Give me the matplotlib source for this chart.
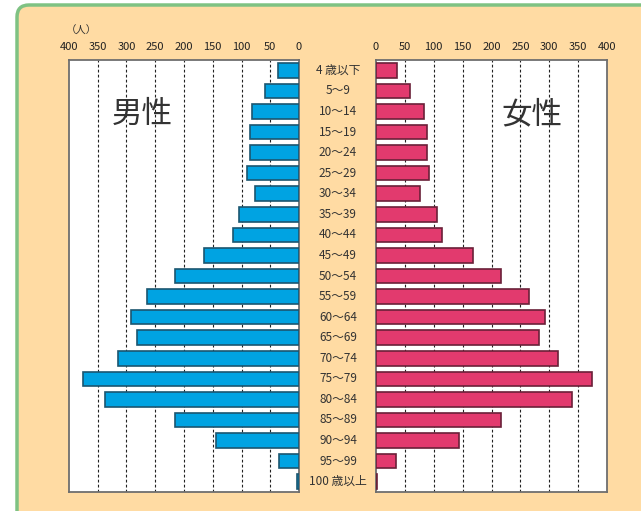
import matplotlib
matplotlib.use("Agg")
import matplotlib.pyplot as plt
import matplotlib.transforms as mtransforms
from matplotlib.patches import FancyBboxPatch
import numpy as np

plt.rcParams['font.family'] = ['Noto Sans CJK JP', 'DejaVu Sans']

# 年齢区分と人数（人）
ages = ["4 歳以下", "5～9", "10～14", "15～19", "20～24", "25～29", "30～34",
        "35～39", "40～44", "45～49", "50～54", "55～59", "60～64", "65～69",
        "70～74", "75～79", "80～84", "85～89", "90～94", "95～99", "100 歳以上"]
male = [37, 60, 82, 86, 86, 90, 76, 105, 114, 166, 216, 265, 293, 281,
        315, 375, 338, 216, 144, 34, 3]
female = [37, 59, 83, 88, 88, 91, 76, 105, 114, 168, 217, 265, 293, 282,
          315, 374, 339, 216, 144, 35, 2]
ticks = [0, 50, 100, 150, 200, 250, 300, 350, 400]

W, H = 641, 511
fig = plt.figure(figsize=(W / 100, H / 100), dpi=100)
fig.patch.set_facecolor("white")

# 背景の枠
frame = FancyBboxPatch((17, -30), 700, 511 - 5 + 30, boxstyle="round,pad=0,rounding_size=12",
                       transform=mtransforms.IdentityTransform(),
                       facecolor="#FFDBA3", edgecolor="#7FC283", linewidth=2.5, zorder=-10)
fig.patches.append(frame)

ax_l = fig.add_axes([69 / W, 1 - 492 / H, 230 / W, 432 / H])
ax_r = fig.add_axes([376 / W, 1 - 492 / H, 231 / W, 432 / H])

y = np.arange(len(ages))

for ax, vals, fc, ec in [(ax_l, male, "#00A3E2", "#1B5670"),
                         (ax_r, female, "#E23A6E", "#6A2038")]:
    ax.set_facecolor("white")
    ax.barh(y, vals, height=0.71, color=fc, edgecolor=ec, linewidth=1.2, zorder=3)
    ax.set_xlim(0, 400)
    ax.set_ylim(len(ages) - 0.5, -0.5)
    ax.set_xticks(ticks)
    ax.set_xticklabels([str(t) for t in ticks])
    ax.xaxis.tick_top()
    ax.tick_params(axis="x", length=0, pad=6, labelsize=8, colors="#222222")
    ax.set_yticks([])
    for t in ticks[1:-1]:
        ax.axvline(t, color="#222222", linewidth=0.8, linestyle=(0, (2.5, 2)), zorder=1)
    for s in ax.spines.values():
        s.set_color("#6E6E6E")
        s.set_linewidth(1.3)

ax_l.invert_xaxis()

# 年齢ラベル
tr = mtransforms.blended_transform_factory(fig.transFigure, ax_l.transData)
for i, a in enumerate(ages):
    fig.text(338 / W, i, a, transform=tr, ha="center", va="center",
             fontsize=8.5, color="#333333")

fig.text(66 / W, 1 - 31 / H, "（人）", ha="left", va="center", fontsize=7.5, color="#333333")
fig.text(142 / W, 1 - 114 / H, "男性", ha="center", va="center", fontsize=22, color="#333333")
fig.text(532 / W, 1 - 115 / H, "女性", ha="center", va="center", fontsize=22, color="#333333")

fig.savefig("out.png", dpi=100)
